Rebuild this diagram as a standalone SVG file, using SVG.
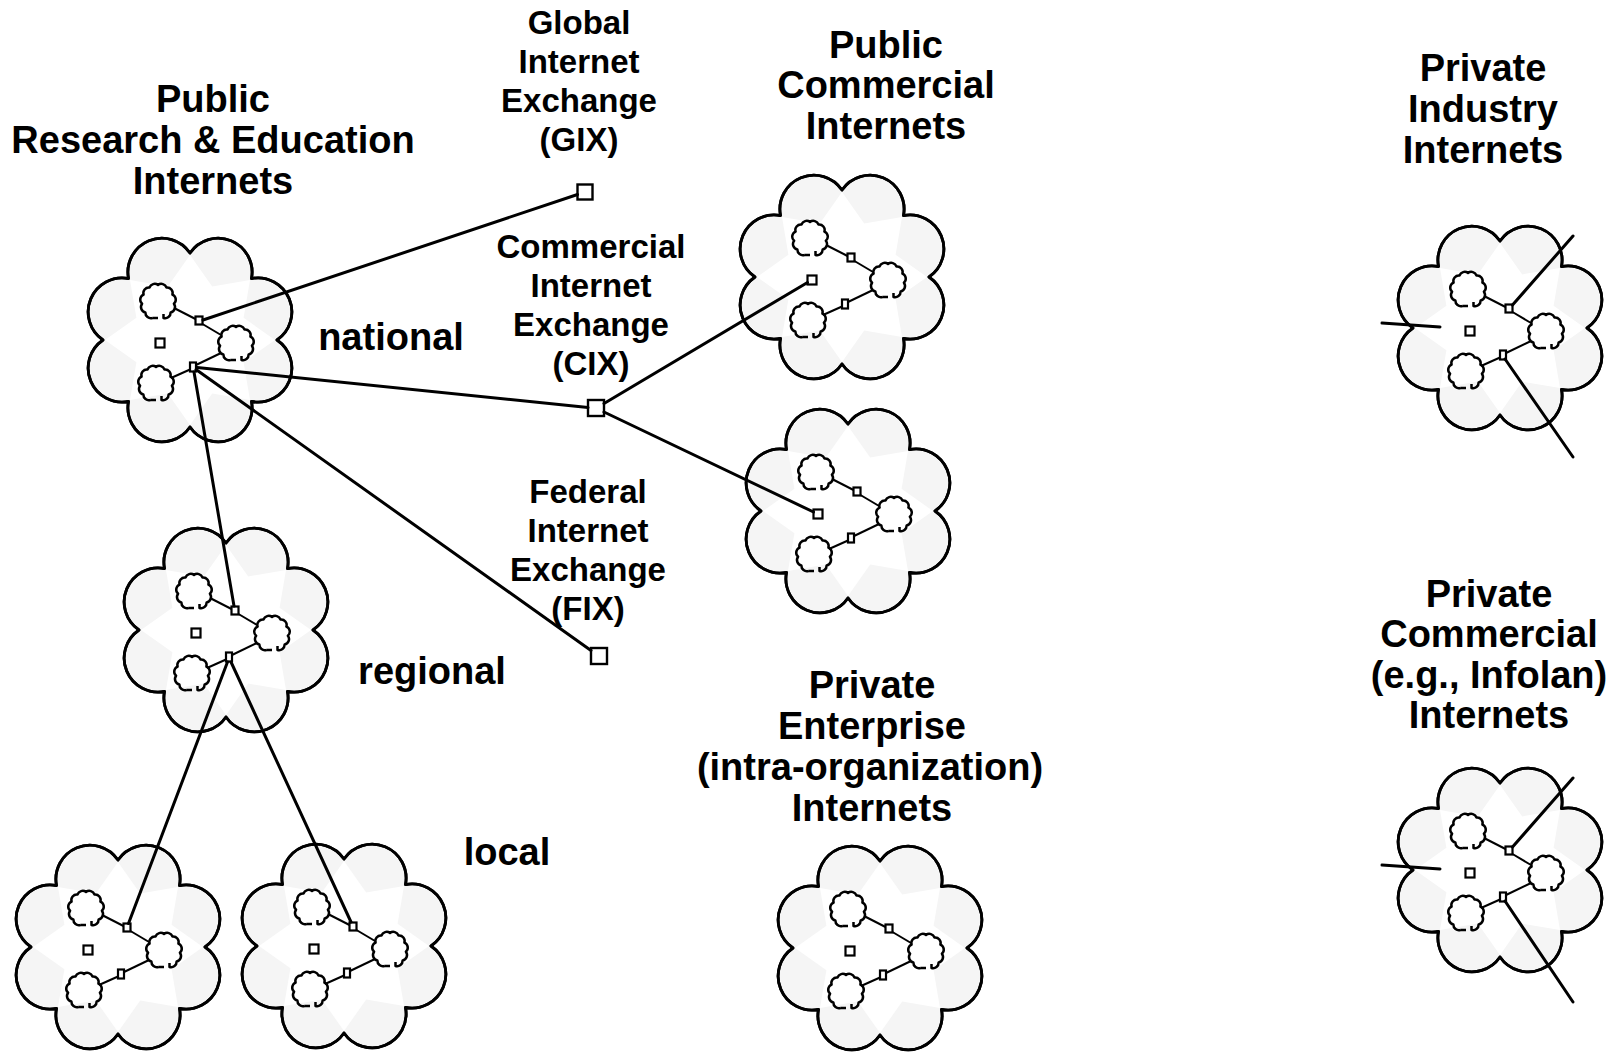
<svg xmlns="http://www.w3.org/2000/svg" xmlns:xlink="http://www.w3.org/1999/xlink" width="1612" height="1053" viewBox="0 0 1612 1053">
<style>
.t{font-family:"Liberation Sans",Arial,Helvetica,sans-serif;font-weight:bold;font-size:38px;text-anchor:middle;fill:#000}
.x{font-size:33px}
.outline{fill:#f5f5f5;stroke:#000;stroke-width:2.8;stroke-linejoin:round}
.star{fill:#fff;stroke:none}
.sc{fill:none;stroke:#000;stroke-width:2.5;stroke-linejoin:round}
.il{stroke:#000;stroke-width:2;fill:none}
.rt{fill:#fff;stroke:#000;stroke-width:2.2}
.ex{fill:#fff;stroke:#000;stroke-width:2.4}
.cn{stroke:#000;stroke-width:3;fill:none;stroke-linecap:round}
</style>
<defs>
<path id="smallCloud" class="sc" d="M -5.5,16 A5.5,5.5 0 0 1 -12.6,10.5 A5.5,5.5 0 0 1 -15.9,1.8 A5.5,5.5 0 0 1 -14.4,-7.4 A5.5,5.5 0 0 1 -8.5,-14.5 A5.5,5.5 0 0 1 0,-17 A5.5,5.5 0 0 1 8.5,-14.5 A5.5,5.5 0 0 1 14.4,-7.4 A5.5,5.5 0 0 1 15.9,1.8 A5.5,5.5 0 0 1 12.6,10.5 A5.5,5.5 0 0 1 5.5,16 L 5.5,12 M -5.5,16 L 0,16"/>
<g id="cloud">
<path class="outline" d="M 87,0 A34,34 0 0 1 61.5,61.5 A34,34 0 0 1 0,87 A34,34 0 0 1 -61.5,61.5 A34,34 0 0 1 -87,0 A34,34 0 0 1 -61.5,-61.5 A34,34 0 0 1 0,-87 A34,34 0 0 1 61.5,-61.5 A34,34 0 0 1 87,0 Z"/>
<polygon class="star" points="85,0 53.6,22.2 60,60 22.2,53.6 0,85 -22.2,53.6 -60,60 -53.6,22.2 -85,0 -53.6,-22.2 -60,-60 -22.2,-53.6 0,-85 22.2,-53.6 60,-60 53.6,-22.2"/>
<path class="outline" style="fill:none" d="M 87,0 A34,34 0 0 1 61.5,61.5 A34,34 0 0 1 0,87 A34,34 0 0 1 -61.5,61.5 A34,34 0 0 1 -87,0 A34,34 0 0 1 -61.5,-61.5 A34,34 0 0 1 0,-87 A34,34 0 0 1 61.5,-61.5 A34,34 0 0 1 87,0 Z"/>
<line class="il" x1="-16" y1="-32" x2="5.5" y2="-21"/>
<line class="il" x1="12.5" y1="-16" x2="31" y2="-5"/>
<line class="il" x1="31" y1="13" x2="6" y2="25"/>
<line class="il" x1="0" y1="29.5" x2="-19" y2="38"/>
<use xlink:href="#smallCloud" href="#smallCloud" x="-32" y="-38"/>
<use xlink:href="#smallCloud" href="#smallCloud" x="46" y="4"/>
<use xlink:href="#smallCloud" href="#smallCloud" x="-34" y="44"/>
<rect class="rt" x="5.5" y="-23.5" width="7" height="8"/>
<rect class="rt" x="0" y="22.5" width="6" height="9"/>
<rect class="rt" x="-34.5" y="-1.5" width="9" height="9"/>
</g>
</defs>

<g id="national">
<use xlink:href="#cloud" href="#cloud" x="190" y="340"/>
<text class="t" x="213" y="112">Public</text>
<text class="t" x="213" y="153">Research &amp; Education</text>
<text class="t" x="213" y="194">Internets</text>
<text class="t" x="391" y="350">national</text>
</g>
<g id="regional">
<use xlink:href="#cloud" href="#cloud" x="226" y="630"/>
<text class="t" x="432" y="684">regional</text>
</g>
<g id="local1">
<use xlink:href="#cloud" href="#cloud" x="118" y="947"/>
<text class="t" x="507" y="865">local</text>
</g>
<g id="local2">
<use xlink:href="#cloud" href="#cloud" x="344" y="946"/>
</g>
<g id="gix">
<rect class="ex" x="577.5" y="184.5" width="15" height="15"/>
<text class="t x" x="579" y="34">Global</text>
<text class="t x" x="579" y="73">Internet</text>
<text class="t x" x="579" y="112">Exchange</text>
<text class="t x" x="579" y="151">(GIX)</text>
</g>
<g id="cix">
<rect class="ex" x="588" y="400" width="16" height="16"/>
<text class="t x" x="591" y="258">Commercial</text>
<text class="t x" x="591" y="297">Internet</text>
<text class="t x" x="591" y="336">Exchange</text>
<text class="t x" x="591" y="375">(CIX)</text>
</g>
<g id="fix">
<rect class="ex" x="591" y="648" width="16" height="16"/>
<text class="t x" x="588" y="503">Federal</text>
<text class="t x" x="588" y="542">Internet</text>
<text class="t x" x="588" y="581">Exchange</text>
<text class="t x" x="588" y="620">(FIX)</text>
</g>
<g id="public-commercial-1">
<use xlink:href="#cloud" href="#cloud" x="842" y="277"/>
<text class="t" x="886" y="58">Public</text>
<text class="t" x="886" y="98">Commercial</text>
<text class="t" x="886" y="139">Internets</text>
</g>
<g id="public-commercial-2">
<use xlink:href="#cloud" href="#cloud" x="848" y="511"/>
</g>
<g id="private-enterprise">
<use xlink:href="#cloud" href="#cloud" x="880" y="948"/>
<text class="t" x="872" y="698">Private</text>
<text class="t" x="872" y="739">Enterprise</text>
<text class="t" x="870" y="780">(intra-organization)</text>
<text class="t" x="872" y="821">Internets</text>
</g>
<g id="private-industry">
<use xlink:href="#cloud" href="#cloud" x="1500" y="328"/>
<text class="t" x="1483" y="81">Private</text>
<text class="t" x="1483" y="122">Industry</text>
<text class="t" x="1483" y="163">Internets</text>
</g>
<g id="private-commercial">
<use xlink:href="#cloud" href="#cloud" x="1500" y="870"/>
<text class="t" x="1489" y="607">Private</text>
<text class="t" x="1489" y="647">Commercial</text>
<text class="t" x="1489" y="688">(e.g., Infolan)</text>
<text class="t" x="1489" y="728">Internets</text>
</g>

<g id="connectors">
<line class="cn" x1="203" y1="320" x2="577.5" y2="194.5"/>
<line class="cn" x1="197" y1="367.5" x2="588" y2="407.5"/>
<line class="cn" x1="196" y1="369.5" x2="591" y2="650.5"/>
<line class="cn" x1="194" y1="372" x2="234" y2="606"/>
<line class="cn" x1="227.5" y1="662" x2="128.5" y2="923.5"/>
<line class="cn" x1="231" y1="662" x2="351" y2="922"/>
<line class="cn" x1="604" y1="403.5" x2="807.5" y2="282.5"/>
<line class="cn" x1="604" y1="412" x2="813.5" y2="512"/>
<line class="cn" x1="1512.5" y1="305" x2="1573" y2="236"/>
<line class="cn" x1="1505" y1="359" x2="1573" y2="457"/>
<line class="cn" x1="1382" y1="323" x2="1440" y2="327"/>
<line class="cn" x1="1512.5" y1="847" x2="1573" y2="778"/>
<line class="cn" x1="1505" y1="901" x2="1573" y2="1002"/>
<line class="cn" x1="1382" y1="865" x2="1440" y2="869"/>
</g>
</svg>
